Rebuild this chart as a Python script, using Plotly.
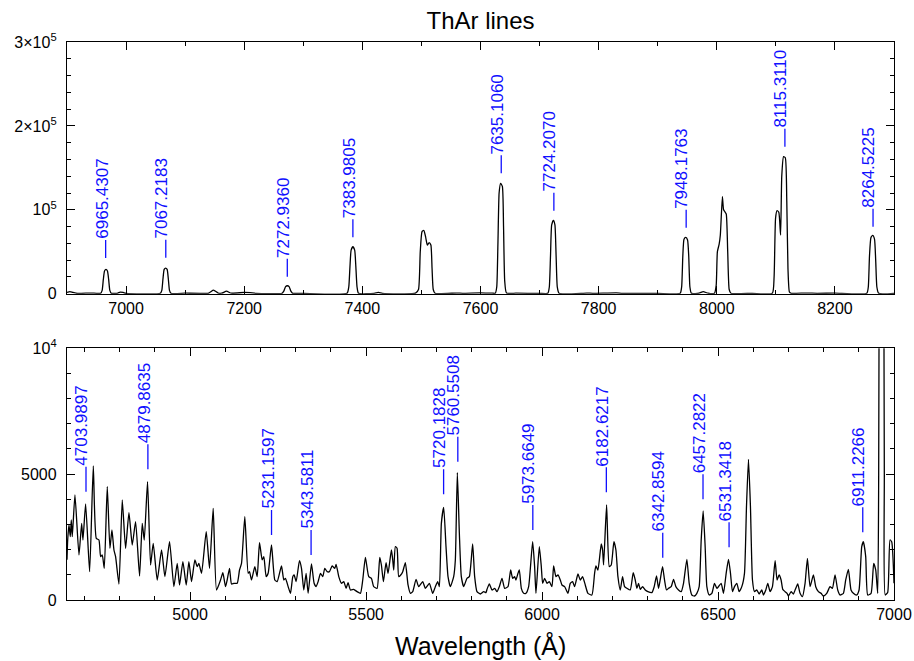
import plotly.graph_objects as go

# ---------------- data ----------------
# Top panel: ThAr spectrum 6900-8300 A (counts)
top_wave = [6900, 6905, 6910, 6918, 6940, 6950, 6957, 6959.5, 6961.5, 6963.5, 6966, 6968.5, 6970.5, 6972.5, 6975,
            6985, 6990, 6995, 7000, 7058, 7060.5, 7062.5, 7064.5, 7067, 7069.5, 7071.5, 7073.5, 7076,
            7100, 7140, 7148, 7156, 7162, 7170, 7178, 7200, 7210, 7220,
            7264, 7267, 7270, 7273, 7276, 7279, 7282, 7300,
            7374, 7377, 7379, 7381, 7384, 7387, 7389, 7391, 7393.5, 7420, 7427, 7434,
            7490, 7495, 7498, 7501, 7504, 7507, 7510, 7513, 7516, 7518, 7520, 7523,
            7560, 7570, 7600, 7620, 7625, 7627.5, 7629.5, 7631.5, 7634, 7637, 7639, 7641, 7644,
            7660, 7700, 7714, 7716.5, 7718.5, 7720.5, 7723.5, 7726, 7728, 7730, 7733,
            7780, 7790, 7830, 7840, 7900, 7938, 7940.5, 7942.5, 7944.5, 7947.5, 7950.5, 7952.5, 7954.5, 7957,
            7970, 7977, 7985, 7996, 7999, 8001, 8004, 8006, 8009.5, 8011.5, 8013.5, 8016, 8018.5, 8021, 8024,
            8060, 8094, 8097, 8099.5, 8102, 8105, 8108, 8110, 8113, 8116, 8118.5, 8120.5, 8123, 8126,
            8150, 8170, 8200, 8254, 8256.5, 8258.5, 8261, 8264, 8267, 8269, 8271, 8274, 8300]
top_flux = [1500, 2500, 1500, 300, 800, 500, 600, 4000, 17000, 27000, 29000, 27000, 17000, 4000, 600,
            500, 2000, 1500, 500, 500, 4000, 18000, 29000, 30600, 29000, 18000, 4000, 500,
            600, 800, 4200, 800, 600, 3000, 600, 1500, 1200, 400,
            500, 3000, 8500, 9500, 8500, 3000, 500, 400,
            500, 8000, 32000, 52000, 56000, 52000, 32000, 8000, 500, 500, 1500, 500,
            600, 5000, 50000, 74000, 75500, 68000, 58000, 61000, 58000, 30000, 5000, 500,
            800, 500, 1000, 600, 600, 8000, 60000, 120000, 131600, 128000, 80000, 15000, 800,
            600, 400, 500, 8000, 45000, 82000, 87500, 82000, 45000, 8000, 500,
            800, 500, 1000, 500, 400, 500, 8000, 45000, 65000, 67200, 64000, 45000, 8000, 500,
            600, 2500, 600, 500, 10000, 50000, 59000, 70000, 115600, 100000, 98000, 95000, 50000, 5000, 500,
            500, 500, 20000, 90000, 99000, 97000, 70000, 140000, 163300, 162000, 110000, 30000, 2000, 500,
            800, 500, 600, 500, 8000, 45000, 67000, 69600, 65000, 40000, 8000, 500, 500]

# Bottom panel: ThAr spectrum 4650-7000 A (counts)
bot_wave = [4650, 4652, 4655.6, 4659.4, 4662.2, 4665.0, 4672.6, 4684.0, 4691.6, 4695.3, 4702.9, 4714.3, 4724.7,
            4733.2, 4740.8, 4745.5, 4750.2, 4755.9, 4764.4, 4772.0, 4777.7, 4783.4, 4788.1, 4797.6, 4807.0,
            4816.5, 4826.0, 4835.4, 4844.9, 4856.2, 4863.8, 4869.5, 4878.9, 4887.5, 4895.0, 4906.4, 4918.7,
            4928.2, 4941.4, 4953.7, 4963.2, 4969.8, 4979.3, 4988.8, 4996.3, 5003.9, 5013.4, 5020.0, 5024.7,
            5032.3, 5045.6, 5055.0, 5065.4, 5074.9, 5086.3, 5092.9, 5100.5, 5105.2, 5111.8, 5117.5, 5124.1,
            5133.6, 5140.2, 5145.9, 5155.3, 5164.8, 5168.6, 5174.3, 5183.7, 5190.4, 5197.0, 5204.6, 5209.3,
            5215.9, 5221.6, 5231.1, 5240.5, 5247.2, 5259.5, 5266.1, 5270.8, 5278.4, 5285.0, 5291.6, 5295.4,
            5301.1, 5310.6, 5316.3, 5322.9, 5329.5, 5335.2, 5344.7, 5352.2, 5357.9, 5363.6, 5370.2, 5376.8,
            5382.5, 5389.2, 5395.8, 5403.3, 5410.9, 5414.7, 5422.3, 5429.8, 5436.5, 5443.1,
            5448.7, 5455.4, 5464.8, 5474.3, 5483.8, 5490.4, 5497.9, 5507.4, 5515.0, 5521.6, 5531.1, 5538.7,
            5543.4, 5549.1, 5556.6, 5562.3, 5571.8, 5575.6, 5578.4, 5583.1, 5587.9, 5592.6, 5598.3, 5604.0,
            5611.5, 5619.1, 5625.7, 5632.4, 5641.8, 5649.4, 5660.8, 5668.3, 5679.7, 5689.1, 5696.7, 5703.3,
            5708.1, 5713.8, 5720.4, 5727.0, 5732.7, 5739.3, 5748.8, 5753.5, 5759.2, 5764.9, 5770.5, 5777.2,
            5786.6, 5793.3, 5802.7, 5808.4, 5815.0, 5824.5, 5834.0, 5840.6,
            5843.5, 5850.1, 5857.7, 5865.3, 5871.9, 5878.5, 5886.1, 5893.7, 5903.1, 5910.7, 5916.4, 5922.1,
            5925.8, 5931.5, 5935.3, 5941.0, 5947.6, 5954.2, 5961.8, 5973.2, 5978.8, 5982.6, 5992.1, 5997.8,
            6001.6, 6007.2, 6013.9, 6020.5, 6028.1, 6032.8, 6039.4, 6045.1, 6051.7, 6056.5, 6064.0, 6073.5,
            6080.1, 6086.7, 6092.4, 6101.9, 6108.5, 6115.1, 6122.7, 6130.3, 6141.6, 6149.2, 6153.0, 6158.7,
            6168.1, 6171.9, 6174.8, 6183.3, 6190.9, 6196.5, 6204.1, 6209.8, 6215.5, 6222.1, 6228.7,
            6234.4, 6241.0, 6250.5, 6259.0, 6264.7, 6269.4, 6274.1, 6278.9, 6285.5, 6293.1, 6300.6, 6312.0,
            6318.6, 6325.2, 6330.9, 6335.6, 6342.3, 6347.9, 6353.6, 6359.3, 6366.9, 6373.5, 6380.1, 6387.7,
            6395.3, 6401.9, 6411.4, 6418.0, 6425.6, 6433.1, 6439.8, 6446.4, 6452.1, 6457.7, 6463.4, 6468.2,
            6474.8, 6482.4, 6489.9, 6496.6, 6501.3, 6508.9, 6515.5, 6523.1, 6529.7, 6535.4, 6541.0, 6546.7,
            6553.3, 6560.0, 6567.5, 6575.1, 6580.8, 6586.5, 6592.1, 6597.8, 6603.5, 6610.1, 6616.8, 6624.3,
            6629.0, 6635.7, 6641.3, 6648.0, 6654.6, 6662.2, 6667.8, 6673.5, 6679.2, 6683.9, 6690.6, 6696.2,
            6700.0, 6707.6, 6714.2, 6719.0, 6726.5, 6733.1, 6739.8, 6747.3, 6754.0, 6761.5, 6771.0, 6777.6,
            6785.2, 6792.8, 6799.4, 6808.9, 6818.3, 6825.0, 6832.5, 6840.1, 6846.7, 6856.2, 6862.8, 6870.4,
            6877.9, 6884.6, 6894.0, 6900.7, 6908.3, 6913.0, 6919.6, 6925.3, 6934.8, 6942.3, 6948.0, 6953.7,
            6956.5, 6958, 6962, 6965.5, 6969, 6971, 6972.5, 6975, 6982, 6988.7, 6993.4, 7000]
bot_flux = [1600, 2400, 2980, 2517, 3179, 2517, 4172, 1788, 3046, 2384, 3814, 1126, 5324,
            2450, 2384, 1722, 1788, 1258, 4503, 2053, 2781, 1987, 1722, 636, 3973,
            2053, 3470, 2185, 3112, 954, 3046, 2384, 4702, 1391, 2252, 795, 1987,
            927, 2318, 530, 1457, 596, 1523, 596, 1523, 729, 1589, 1324, 1457,
            1060, 2715, 1258, 3642, 398, 795, 1086, 530, 795, 1258, 636, 663,
            663, 1192, 1457, 3311, 1060, 1126, 795, 1324, 927, 2278, 1590, 1722,
            927, 1060, 2185, 795, 729, 1351, 795, 861, 530, 265, 927, 994,
            729, 1563, 1258, 398, 1060, 265, 1431, 663, 530, 729, 1060, 927,
            1258, 1126, 1126, 1351, 1258, 1417, 927, 663, 729, 464,
            689, 398, 424, 331, 265, 795, 1695, 927, 861, 530, 464, 1695,
            1391, 729, 1484, 1060, 1987, 1590, 1192, 2119, 2053, 927, 994, 1126,
            1484, 596, 265, 331, 821, 530, 729, 464, 663, 265, 530, 729,
            530, 3046, 3682, 2119, 927, 530, 927, 1590, 5059, 2649, 927, 530,
            861, 927, 2225, 927, 331, 239, 331, 292,
            424, 636, 398, 464, 331, 530, 861, 464, 530, 1192, 861, 927,
            795, 1060, 1192, 464, 265, 265, 530, 2318, 1325, 265, 2119, 1325,
            663, 861, 663, 729, 530, 1351, 927, 994, 795, 596, 530, 265,
            663, 729, 530, 1033, 795, 927, 596, 265, 199, 1060, 1351, 1192,
            2225, 1987, 1391, 3775, 1325, 1391, 2318, 1987, 927, 398, 927,
            530, 464, 398, 1086, 795, 464, 663, 424, 530, 398, 331, 292,
            530, 954, 464, 795, 1325, 795, 398, 464, 530, 821, 530, 398,
            331, 663, 1616, 663, 199, 159, 265, 530, 2384, 3536, 2119, 530,
            199, 265, 663, 464, 530, 663, 265, 1060, 1616, 1060, 331, 530,
            663, 331, 530, 1060, 3709, 5589, 3709, 795, 331, 398, 239, 398,
            199, 398, 663, 331, 530, 1563, 795, 994, 795, 424, 331, 265,
            159, 331, 239, 398, 636, 265, 133, 663, 1656, 530, 994, 530,
            331, 265, 159, 265, 530, 464, 994, 398, 199, 265, 795, 1219,
            398, 265, 199, 398, 2119, 2318, 1722, 199, 265, 1457, 1192, 265,
            5000, 14000, 26000, 28300, 26000, 14000, 5000, 199, 300, 2384, 2318, 663]

# Identified lines (wavelength labels) and the height of the marker's foot
top_lines = ["6965.4307", "7067.2183", "7272.9360", "7383.9805", "7635.1060",
             "7724.2070", "7948.1763", "8115.3110", "8264.5225"]
top_line_y = [42500, 42900, 20300, 67200, 143500, 99000, 78700, 175200, 79900]
bot_lines = ["4703.9897", "4879.8635", "5231.1597", "5343.5811", "5720.1828", "5760.5508",
             "5973.6649", "6182.6217", "6342.8594", "6457.2822", "6531.3418", "6911.2266"]
bot_line_y = [4303, 5193, 2582, 1788, 4199, 5495, 2781, 4278, 1681, 4000, 2093, 2689]

top_ticks = [0, 100000, 200000, 300000]
top_ticktext = ["0", "10<sup>5</sup>", "2×10<sup>5</sup>", "3×10<sup>5</sup>"]
bot_ticks = [0, 5000, 10000]
bot_ticktext = ["0", "5000", "10<sup>4</sup>"]

# ---------------- figure ----------------
FONT = "Liberation Sans"
BLUE = "#1010ff"

fig = go.Figure()
fig.add_trace(go.Scatter(x=top_wave, y=top_flux, mode="lines", xaxis="x", yaxis="y",
                         line=dict(color="black", width=1.3, shape="spline", smoothing=0.5),
                         showlegend=False, hoverinfo="skip"))
fig.add_trace(go.Scatter(x=bot_wave, y=bot_flux, mode="lines", xaxis="x2", yaxis="y2",
                         line=dict(color="black", width=1.3, shape="spline", smoothing=0.5),
                         showlegend=False, hoverinfo="skip"))

shapes = []
annotations = []


def add_labels(names, feet, xref, yref, seglen):
    for name, foot in zip(names, feet):
        w = float(name)
        shapes.append(dict(type="line", xref=xref, yref=yref, x0=w, x1=w,
                           ysizemode="pixel", yanchor=foot, y0=0, y1=seglen,
                           line=dict(color=BLUE, width=1.3)))
        annotations.append(dict(text=name, x=w, y=foot, xref=xref, yref=yref, showarrow=False,
                                textangle=-90, xanchor="center", yanchor="bottom",
                                yshift=seglen, xshift=-4, borderpad=0,
                                font=dict(family=FONT, size=17, color=BLUE)))


add_labels(top_lines, top_line_y, "x", "y", 18)
add_labels(bot_lines, bot_line_y, "x2", "y2", 25)

annotations.append(dict(text="Wavelength (Å)", x=0.5, y=-0.0824, xref="paper", yref="paper",
                        showarrow=False, xanchor="center", yanchor="middle",
                        font=dict(family=FONT, size=25, color="black")))

axis_common = dict(showline=True, linecolor="black", linewidth=1.3, mirror="ticks",
                   ticks="inside", ticklen=8, tickwidth=1, tickcolor="black",
                   showgrid=False, zeroline=False, automargin=False,
                   tickfont=dict(family=FONT, size=16, color="black"))

fig.update_layout(
    width=914, height=661,
    margin=dict(l=67, r=20, t=42, b=61),
    paper_bgcolor="white", plot_bgcolor="white",
    title=dict(text="ThAr lines", x=0.5, xref="paper", xanchor="center",
               y=1 - 21 / 661, yanchor="middle",
               font=dict(family=FONT, size=24, color="black")),
    xaxis=dict(domain=[0, 1], anchor="y", range=[6900, 8300], dtick=200, tick0=0,
               minor=dict(dtick=100, ticklen=4, ticks="inside", tickcolor="black"), **axis_common),
    yaxis=dict(domain=[0.5489, 1], anchor="x", range=[0, 300000], tickvals=top_ticks,
               ticktext=top_ticktext, ticklabelstandoff=6,
               minor=dict(dtick=20000, ticklen=4, ticks="inside", tickcolor="black"), **axis_common),
    xaxis2=dict(domain=[0, 1], anchor="y2", range=[4650, 7000], dtick=500, tick0=0,
                minor=dict(dtick=100, ticklen=4, ticks="inside", tickcolor="black"), **axis_common),
    yaxis2=dict(domain=[0, 0.4511], anchor="x2", range=[0, 10000], tickvals=bot_ticks,
                ticktext=bot_ticktext, ticklabelstandoff=6,
                minor=dict(dtick=1000, ticklen=4, ticks="inside", tickcolor="black"), **axis_common),
    shapes=shapes,
    annotations=annotations,
)

fig.write_html("out.html")
